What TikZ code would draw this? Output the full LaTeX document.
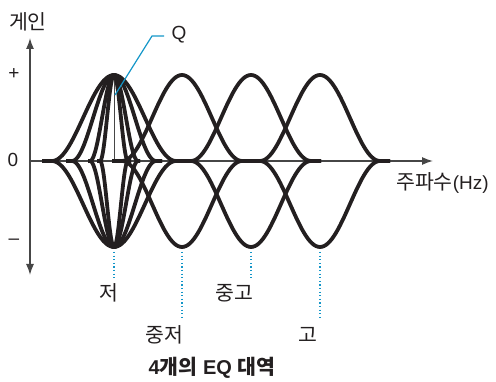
\documentclass[tikz,border=0pt]{standalone}
\usepackage{fontspec}
\setmainfont{Liberation Sans}
\newfontfamily\kr{Noto Sans CJK KR}
\usetikzlibrary{arrows.meta}
\definecolor{ink}{RGB}{35,31,32}
\definecolor{axisgray}{RGB}{70,70,70}
\definecolor{qblue}{RGB}{20,150,200}
\tikzset{
  curve/.style={draw=ink,line width=3.8pt,line join=round},
  axisline/.style={draw=axisgray,line width=1.3pt},
  tiparrow/.style={-{Latex[length=11pt,width=8pt]}},
  guide/.style={draw=qblue,line width=1.2pt,dash pattern=on 1.3pt off 2.3pt},
  leader/.style={draw=qblue,line width=1.2pt},
  lbl/.style={font=\fontsize{19}{19}\selectfont,inner sep=0pt,text=ink},
  krlbl/.style={font=\kr\fontsize{20.5}{20.5}\selectfont,inner sep=0pt,text=ink},
}
\newcommand\eqbump[4]{%
  \draw[curve] (#3,161) -- plot[domain=#1-#2:#1+#2,samples=61] (\x,{161-43*(1+cos(180*(\x-#1)/#2))}) -- (#4,161);
  \draw[curve] (#3,161) -- plot[domain=#1-#2:#1+#2,samples=61] (\x,{161+43*(1+cos(180*(\x-#1)/#2))}) -- (#4,161);
}
\begin{document}
\begin{tikzpicture}[x=1pt,y=-1pt]
\useasboundingbox (0,0) rectangle (496,382);
% axes
\coordinate (origin) at (30,161);
\coordinate (ytop) at (30,38);
\coordinate (ybot) at (30,275);
\coordinate (xend) at (433,161);
\draw[axisline,tiparrow] (origin) -- (xend);
\draw[axisline,tiparrow] (origin) -- (ytop);
\draw[axisline,tiparrow] (origin) -- (ybot);
\coordinate (c0) at (114,161);
\coordinate (c0top) at (114,80);
\draw[axisline,line width=1pt] (c0) -- (c0top);
% low band with several Q
\eqbump{114}{62}{42}{186}
\eqbump{114}{42}{66}{162}
\eqbump{114}{24}{88}{140}
\eqbump{114}{14}{97}{131}
% other bands
\eqbump{182}{60}{112}{252}
\eqbump{251}{60}{181}{321}
\eqbump{320}{60}{250}{390}
% labels on axes
\node[krlbl] (gain) at (28,22) {게인};
\node[lbl] (plus) at (14,74) {+};
\node[lbl] (zero) at (13,160) {0};
\node[lbl] (minus) at (14,242) {–};
\node[lbl,anchor=west] (freq) at (396,183) {{\kr\fontsize{20.5}{20.5}\selectfont 주파수}(Hz)};
% Q leader
\coordinate (qfoot) at (115,95);
\coordinate (qbend) at (152,36);
\coordinate (qend) at (164,36);
\draw[leader] (qfoot) -- (qbend) -- (qend);
\node[lbl] (Q) at (179,35) {Q};
% band guides
\coordinate (g1a) at (114,252); \coordinate (g1b) at (114,278);
\coordinate (g2a) at (182,252); \coordinate (g2b) at (182,318);
\coordinate (g3a) at (251,252); \coordinate (g3b) at (251,278);
\coordinate (g4a) at (320,252); \coordinate (g4b) at (320,318);
\draw[guide] (g1a) -- (g1b);
\draw[guide] (g2a) -- (g2b);
\draw[guide] (g3a) -- (g3b);
\draw[guide] (g4a) -- (g4b);
\node[krlbl] (low) at (109,293) {저};
\node[krlbl] (midhigh) at (234,293) {중고};
\node[krlbl] (midlow) at (164,335) {중저};
\node[krlbl] (high) at (308,335) {고};
\node[lbl,font=\fontsize{20}{20}\selectfont\bfseries] (caption) at (212,368) {4{\kr\fontsize{20.5}{20.5}\selectfont\bfseries 개의} EQ {\kr\fontsize{20.5}{20.5}\selectfont\bfseries 대역}};
\end{tikzpicture}
\end{document}
